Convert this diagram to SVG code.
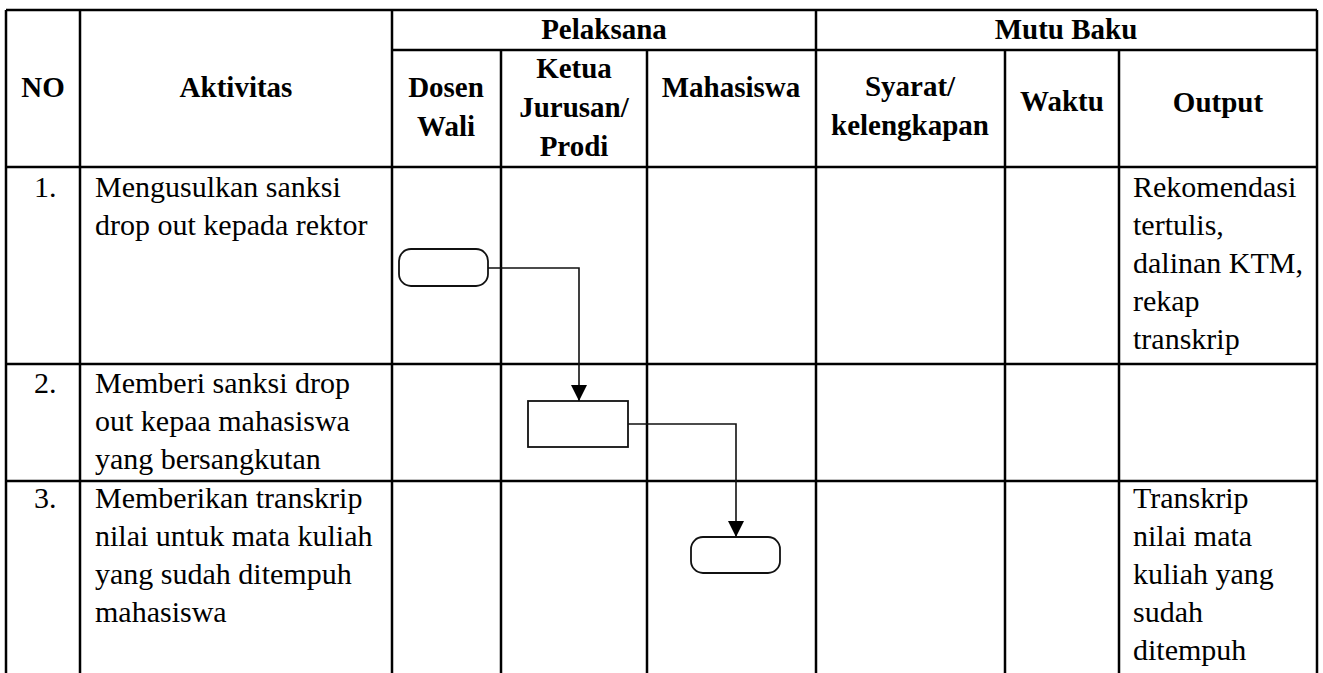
<svg xmlns="http://www.w3.org/2000/svg" width="1323" height="673" viewBox="0 0 1323 673">
  <style>
    .grid { stroke: #000; stroke-width: 2.5; fill: none; }
    .shape { stroke: #111; stroke-width: 1.8; fill: #fff; }
    .conn { stroke: #111; stroke-width: 1.6; fill: none; }
    .hd { font-weight: bold; font-size: 29px; fill: #000; text-anchor: middle; }
    .tx { font-size: 30px; fill: #000; }
  </style>
  <defs>
    <marker id="arrow" markerUnits="userSpaceOnUse" markerWidth="16" markerHeight="16" refX="16" refY="8" orient="auto">
      <path d="M0,0 L16,8 L0,16 z" fill="#000"/>
    </marker>
  </defs>

  <rect width="1323" height="673" fill="#fff"/>

  <!-- table grid -->
  <g id="grid" class="grid">
    <line x1="6" y1="10" x2="1317" y2="10"/>
    <line x1="392" y1="50" x2="1317" y2="50"/>
    <line x1="6" y1="167" x2="1317" y2="167"/>
    <line x1="6" y1="364" x2="1317" y2="364"/>
    <line x1="6" y1="481" x2="1317" y2="481"/>
    <line x1="6" y1="10" x2="6" y2="673"/>
    <line x1="80" y1="10" x2="80" y2="673"/>
    <line x1="392" y1="10" x2="392" y2="673"/>
    <line x1="501" y1="50" x2="501" y2="673"/>
    <line x1="647" y1="50" x2="647" y2="673"/>
    <line x1="816" y1="10" x2="816" y2="673"/>
    <line x1="1005" y1="50" x2="1005" y2="673"/>
    <line x1="1119" y1="50" x2="1119" y2="673"/>
    <line x1="1317" y1="10" x2="1317" y2="673"/>
  </g>

  <g font-family="Liberation Serif, DejaVu Serif, serif">
    <!-- column headers -->
    <g id="header">
      <text class="hd" x="604" y="39">Pelaksana</text>
      <text class="hd" x="1066" y="39">Mutu Baku</text>
      <text class="hd" x="43" y="97">NO</text>
      <text class="hd" x="236" y="97">Aktivitas</text>
      <text class="hd" x="446" y="97">Dosen</text>
      <text class="hd" x="446" y="136">Wali</text>
      <text class="hd" x="574" y="78">Ketua</text>
      <text class="hd" x="574" y="117">Jurusan/</text>
      <text class="hd" x="574" y="156">Prodi</text>
      <text class="hd" x="731" y="97">Mahasiswa</text>
      <text class="hd" x="910" y="96">Syarat/</text>
      <text class="hd" x="910" y="135">kelengkapan</text>
      <text class="hd" x="1062" y="111">Waktu</text>
      <text class="hd" x="1218" y="112">Output</text>
    </g>

    <!-- row 1 -->
    <g id="row1">
      <text class="tx" x="34" y="197">1.</text>
      <text class="tx" x="95" y="197">Mengusulkan sanksi</text>
      <text class="tx" x="95" y="235">drop out kepada rektor</text>
      <text class="tx" x="1133" y="197">Rekomendasi</text>
      <text class="tx" x="1133" y="235">tertulis,</text>
      <text class="tx" x="1133" y="273">dalinan KTM,</text>
      <text class="tx" x="1133" y="311">rekap</text>
      <text class="tx" x="1133" y="349">transkrip</text>
    </g>

    <!-- row 2 -->
    <g id="row2">
      <text class="tx" x="34" y="393">2.</text>
      <text class="tx" x="95" y="393">Memberi sanksi drop</text>
      <text class="tx" x="95" y="431">out kepaa mahasiswa</text>
      <text class="tx" x="95" y="469">yang bersangkutan</text>
    </g>

    <!-- row 3 -->
    <g id="row3">
      <text class="tx" x="34" y="508">3.</text>
      <text class="tx" x="95" y="508">Memberikan transkrip</text>
      <text class="tx" x="95" y="546">nilai untuk mata kuliah</text>
      <text class="tx" x="95" y="584">yang sudah ditempuh</text>
      <text class="tx" x="95" y="622">mahasiswa</text>
      <text class="tx" x="1133" y="508">Transkrip</text>
      <text class="tx" x="1133" y="546">nilai mata</text>
      <text class="tx" x="1133" y="584">kuliah yang</text>
      <text class="tx" x="1133" y="622">sudah</text>
      <text class="tx" x="1133" y="660">ditempuh</text>
    </g>
  </g>

  <!-- flow shapes -->
  <g id="start">
    <rect class="shape" x="399" y="249" width="89" height="37" rx="12" ry="12"/>
  </g>
  <g id="process">
    <rect class="shape" x="528" y="401" width="100" height="46"/>
  </g>
  <g id="end">
    <rect class="shape" x="691" y="537" width="89" height="36" rx="12" ry="12"/>
  </g>

  <!-- connectors -->
  <g id="connectors" class="conn">
    <path d="M488 268 H579 V401" marker-end="url(#arrow)"/>
    <path d="M628 424 H736 V537" marker-end="url(#arrow)"/>
  </g>
</svg>
